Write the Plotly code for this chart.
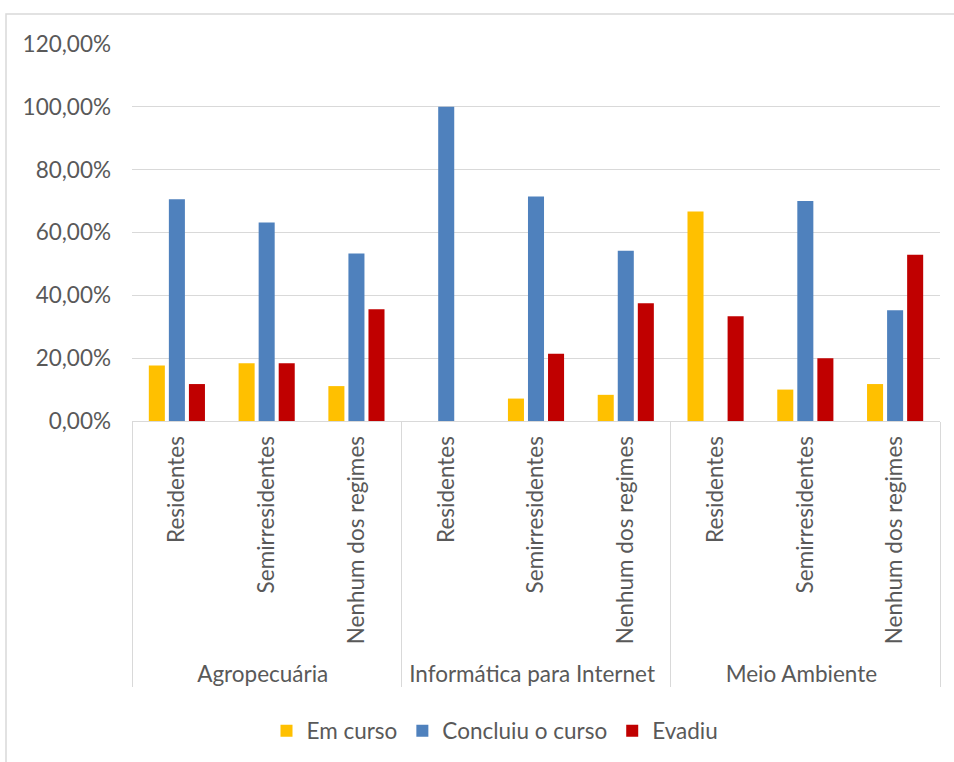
import plotly.graph_objects as go

cursos = ["Agropecuária", "Informática para Internet", "Meio Ambiente"]
regimes = ["Residentes", "Semirresidentes", "Nenhum dos regimes"]
series_names = ["Em curso", "Concluiu o curso", "Evadiu"]
em_curso = [17.65, 18.42, 11.11, 0, 7.14, 8.33, 66.67, 10.00, 11.76]
concluiu = [70.59, 63.16, 53.33, 100.00, 71.43, 54.17, 0, 70.00, 35.29]
evadiu = [11.76, 18.42, 35.56, 0, 21.43, 37.50, 33.33, 20.00, 52.94]
colors = ["#FFC000", "#4F81BD", "#C00000"]
y_ticks = [0, 20, 40, 60, 80, 100, 120]
y_tick_labels = ["0,00%", "20,00%", "40,00%", "60,00%", "80,00%", "100,00%", "120,00%"]

outer = [c for c in cursos for _ in regimes]
inner = [r for _ in cursos for r in regimes]

W, H = 954, 762
L, R, T, B = 132, 14, 44, 340
FONT = "Lato"
FS = 22.5

fig = go.Figure()
for name, vals, col in zip(series_names, [em_curso, concluiu, evadiu], colors):
    fig.add_trace(go.Bar(x=[outer, inner], y=vals, name=name, marker_color=col,
                         marker_line_width=0))

def px2paper_x(px):
    return (px - L) / (W - L - R)

def px2paper_y(py):
    return (H - B - py) / (H - B - T)

fig.update_layout(
    width=W, height=H,
    margin=dict(l=L, r=R, t=T, b=B),
    paper_bgcolor="white", plot_bgcolor="white",
    barmode="group", bargap=0.33, bargroupgap=0.2,
    font=dict(family=FONT, size=FS, color="#595959"),
    showlegend=True,
    legend=dict(orientation="h", x=px2paper_x(495), xanchor="center",
                y=px2paper_y(731), yanchor="middle",
                font=dict(family=FONT, size=FS, color="#595959"),
                traceorder="normal", itemwidth=30),
    xaxis=dict(type="multicategory", tickangle=-90, showline=True,
               linecolor="#D9D9D9", linewidth=1, ticks="",
               showdividers=True, dividercolor="#D9D9D9", dividerwidth=1,
               ticklabelstandoff=5,
               tickfont=dict(family=FONT, size=FS, color="#595959")),
    yaxis=dict(range=[0, 120], tickvals=y_ticks, ticktext=y_tick_labels,
               showgrid=True, gridcolor="#D9D9D9", gridwidth=1, zeroline=False,
               showline=False, ticks="", ticklabelstandoff=20,
               tickfont=dict(family=FONT, size=FS, color="#595959")),
    shapes=[dict(type="rect", xref="paper", yref="paper",
                 x0=px2paper_x(6), x1=px2paper_x(970),
                 y0=px2paper_y(780), y1=px2paper_y(14),
                 line=dict(color="#D9D9D9", width=1.5), layer="below")],
)

fig.write_html("out.html")
